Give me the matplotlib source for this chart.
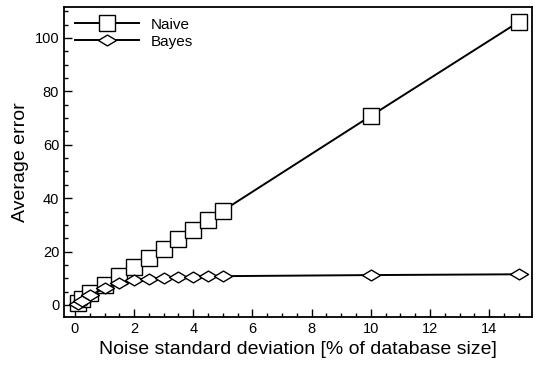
import matplotlib
matplotlib.use("Agg")
import matplotlib.pyplot as plt
from matplotlib.ticker import MultipleLocator
from matplotlib.path import Path

plt.rcParams['font.family'] = ['Liberation Sans', 'DejaVu Sans']

noise = [0.1, 0.25, 0.5, 1, 1.5, 2, 2.5, 3, 3.5, 4, 4.5, 5, 10, 15]
naive = [0.6, 2.4, 4.5, 7.3, 10.8, 14.3, 17.6, 21.0, 24.6, 28.1, 31.8, 35.3, 70.8, 106.0]
bayes = [0.5, 1.6, 3.6, 6.2, 8.2, 9.2, 9.8, 10.2, 10.4, 10.6, 10.7, 10.8, 11.2, 11.5]

wide_diamond = Path([(-1, 0), (0, 0.6), (1, 0), (0, -0.6), (-1, 0)],
                    [Path.MOVETO, Path.LINETO, Path.LINETO, Path.LINETO, Path.CLOSEPOLY])

fig = plt.figure(figsize=(5.4, 3.81), dpi=100)
ax = fig.add_axes([64/540, 1-317/381, (532-64)/540, (317-7)/381])

ax.plot(noise, naive, color='black', lw=1.4, marker='s', ms=11.5,
        mfc='white', mec='black', mew=1.0, label='Naive')
ax.plot(noise, bayes, color='black', lw=1.4, marker=wide_diamond, ms=13,
        mfc='white', mec='black', mew=1.0, label='Bayes')

ax.set_xlim(-0.37, 15.45)
ax.set_ylim(-4.5, 111.6)
ax.xaxis.set_major_locator(MultipleLocator(2))
ax.xaxis.set_minor_locator(MultipleLocator(0.5))
ax.yaxis.set_major_locator(MultipleLocator(20))
ax.yaxis.set_minor_locator(MultipleLocator(5))
ax.tick_params(which='both', direction='in', top=False, right=False)
ax.tick_params(which='major', length=6, width=1, labelsize=10.5)
ax.tick_params(which='minor', length=3, width=1)
for s in ax.spines.values():
    s.set_linewidth(1.3)

ax.set_xlabel('Noise standard deviation [% of database size]', fontsize=14)
ax.set_ylabel('Average error', fontsize=14)

ax.legend(loc='upper left', frameon=False, fontsize=11, handlelength=4.2,
          borderaxespad=0.3, labelspacing=0.2, handletextpad=0.8)

fig.savefig('out.png', dpi=100)
